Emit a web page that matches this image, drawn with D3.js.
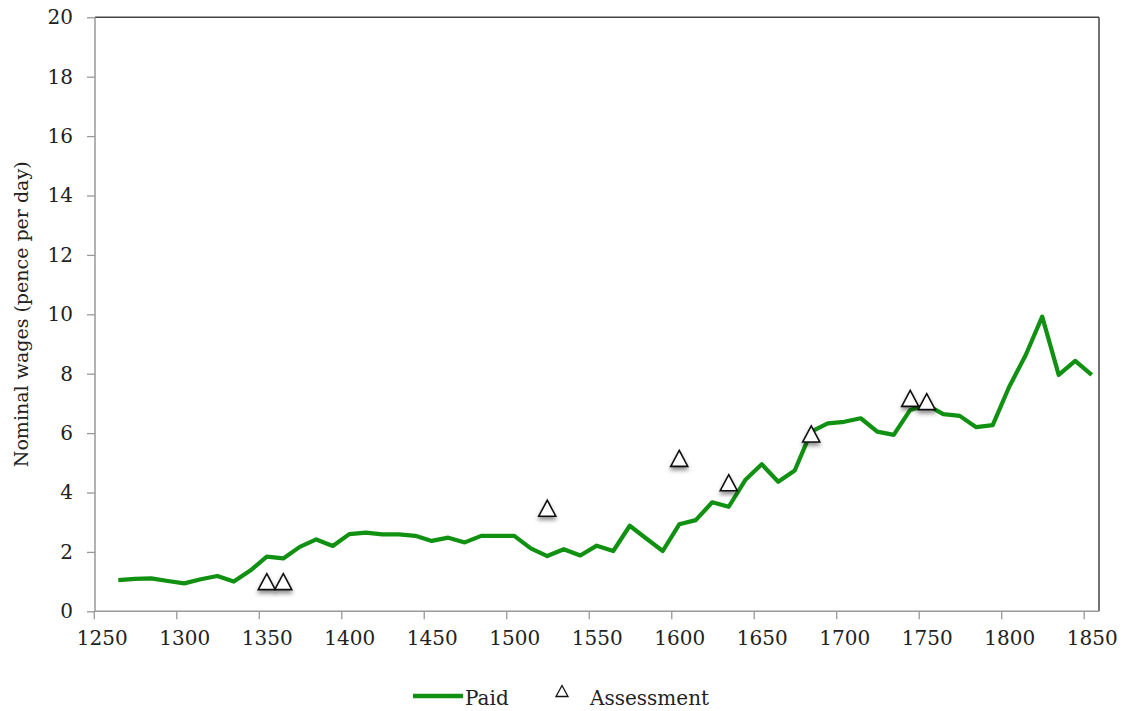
<!DOCTYPE html>
<html><head><meta charset="utf-8">
<script src="https://cdn.jsdelivr.net/npm/d3@7/dist/d3.min.js"></script>
<style>
body{margin:0;background:#fff;}
text{font-family:"DejaVu Serif",serif;fill:#222;}
</style></head>
<body><svg id="c" width="1125" height="711"></svg>
<script>
const years = d3.range(1260, 1851, 10);
const paid = [1.05,1.09,1.11,1.02,0.94,1.08,1.19,1.00,1.37,1.84,
              1.78,2.17,2.42,2.20,2.60,2.65,2.59,2.59,2.54,2.37,
              2.48,2.32,2.54,2.54,2.54,2.12,1.86,2.09,1.88,2.21,
              2.03,2.88,2.45,2.03,2.93,3.07,3.67,3.52,4.42,4.95,
              4.36,4.74,6.05,6.33,6.38,6.50,6.05,5.94,6.78,6.95,
              6.64,6.58,6.20,6.27,7.56,8.63,9.92,7.96,8.43,7.96];
const assessYears = [1350,1360,1520,1600,1630,1680,1740,1750];
const assessVals  = [1.0,1.0,3.47,5.15,4.33,5.97,7.17,7.06];
const xTicks = d3.range(1250, 1851, 50);
const yTicks = d3.range(0, 21, 2);
const yTitle = "Nominal wages (pence per day)";
const legendLabels = ["Paid","Assessment"];

const svg = d3.select("#c");
const L=95, R=1099, T=17.3, B=611.3;
const x = d3.scaleLinear().domain([1250,1850]).range([101.8,1091.7]);
const y = d3.scaleLinear().domain([0,20]).range([B,T]);

const defs = svg.append("defs");
const f = defs.append("filter").attr("id","sh").attr("x","-50%").attr("y","-50%").attr("width","200%").attr("height","200%");
f.append("feDropShadow").attr("dx",0).attr("dy",3).attr("stdDeviation",2).attr("flood-color","#000").attr("flood-opacity",0.45);

// frame top/right
svg.append("line").attr("x1",L).attr("x2",R).attr("y1",T).attr("y2",T).attr("stroke","#444").attr("stroke-width",1.5);
svg.append("line").attr("x1",R).attr("x2",R).attr("y1",T).attr("y2",B).attr("stroke","#444").attr("stroke-width",1.5);

// x axis
const xa = svg.append("g").attr("transform",`translate(0,${B})`)
  .call(d3.axisBottom(x).tickValues(xTicks).tickFormat(d3.format("d")).tickSize(8).tickPadding(12));
xa.select(".domain").remove();
xa.selectAll(".tick line").attr("x1",-8).attr("x2",-8).attr("stroke","#999").attr("stroke-width",1.3);
xa.selectAll(".tick text").style("font-size","20px").attr("fill","#222").attr("font-family","DejaVu Serif");
svg.append("line").attr("x1",L).attr("x2",R).attr("y1",B).attr("y2",B).attr("stroke","#999").attr("stroke-width",1.5);

// y axis
const ya = svg.append("g").attr("transform",`translate(${L},0)`)
  .call(d3.axisLeft(y).tickValues(yTicks).tickSize(8).tickPadding(14));
ya.select(".domain").remove();
ya.selectAll(".tick line").attr("stroke","#999").attr("stroke-width",1.3);
ya.selectAll(".tick text").style("font-size","20px").attr("fill","#222").attr("font-family","DejaVu Serif");
svg.append("line").attr("x1",L).attr("x2",L).attr("y1",T).attr("y2",B).attr("stroke","#999").attr("stroke-width",1.5);

svg.append("text").attr("transform",`translate(28,${(T+B)/2}) rotate(-90)`)
  .attr("text-anchor","middle").style("font-size","19px").text(yTitle);

// line
const pts = years.map((yr,i)=>[yr,paid[i]]);
svg.append("path").datum(pts)
  .attr("d", d3.line().x(d=>x(d[0])).y(d=>y(d[1])))
  .attr("fill","none").attr("stroke","#119111").attr("stroke-width",4.2).attr("stroke-linejoin","round");

// triangles
const tri = (w,h)=>`M0,${-h/2}L${w/2},${h/2}L${-w/2},${h/2}Z`;
svg.append("g").selectAll("path").data(assessYears.map((yr,i)=>[yr,assessVals[i]])).join("path")
  .attr("transform",d=>`translate(${x(d[0])},${y(d[1])})`)
  .attr("d",tri(17,16)).attr("fill","#fff").attr("stroke","#111").attr("stroke-width",1.6)
  .attr("filter","url(#sh)");

// legend
svg.append("line").attr("x1",413).attr("x2",463).attr("y1",696).attr("y2",696).attr("stroke","#119111").attr("stroke-width",4.5);
svg.append("text").attr("x",465).attr("y",705).style("font-size","20px").text(legendLabels[0]);
svg.append("path").attr("transform","translate(562,691)").attr("d",tri(12,11)).attr("fill","#fff").attr("stroke","#111").attr("stroke-width",1.3);
svg.append("text").attr("x",590).attr("y",705).style("font-size","20px").text(legendLabels[1]);
</script></body></html>
